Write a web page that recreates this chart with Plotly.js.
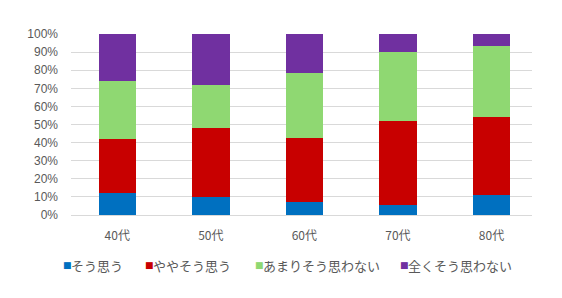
<!DOCTYPE html>
<html><head><meta charset="utf-8">
<script src="https://cdn.plot.ly/plotly-3.0.1.min.js"></script>
<style>html,body{margin:0;padding:0;background:#fff}#c{width:562px;height:298px}</style>
</head><body><div id="c"></div>
<script>
const categories = ["40代","50代","60代","70代","80代"];
const seriesNames = ["そう思う","ややそう思う","あまりそう思わない","全くそう思わない"];
const s1 = [12, 10, 7.4, 5.5, 11];
const s2 = [30, 38, 35.1, 46.2, 43.2];
const s3 = [31.8, 24, 36.2, 38.2, 39.4];
const s4 = [26.2, 28, 21.3, 10.1, 6.4];
const colors = ["#0070C0","#C80000","#8FD872","#7030A0"];
const vals = [s1,s2,s3,s4];
const traces = vals.map((v,i)=>({type:"bar",name:seriesNames[i],x:categories,y:v,marker:{color:colors[i]},hoverinfo:"none",showlegend:false}));
// custom legend positions (pixels)
const L = 71, W = 461, T = 34, H = 181;
const legX = [61, 143, 253, 398];
const legY = 265;
const px = x => (x - L) / W;
const py = y => (T + H - y) / H;
const annotations = [];
seriesNames.forEach((n,i)=>{
  annotations.push({xref:"paper",yref:"paper",x:px(legX[i]),y:py(legY),xanchor:"left",yanchor:"middle",showarrow:false,
    text:"■",font:{size:9,color:colors[i],family:"'DejaVu Sans', sans-serif"}});
  annotations.push({xref:"paper",yref:"paper",x:px(legX[i]+8),y:py(legY),xanchor:"left",yanchor:"middle",showarrow:false,
    text:n,font:{size:13,color:"#595959"}});
});
const layout = {
  width:562,height:298,barmode:"stack",bargap:0.6,
  margin:{l:L,r:562-L-W,t:T,b:298-T-H},
  paper_bgcolor:"#fff",plot_bgcolor:"#fff",
  font:{family:"'Noto Sans CJK JP', 'Liberation Sans', sans-serif",size:11,color:"#595959"},
  xaxis:{automargin:false,range:[-0.494,4.433],showgrid:false,showline:false,ticks:"",ticklabelstandoff:12,tickfont:{size:12,color:"#595959"}},
  yaxis:{automargin:false,range:[0,100],dtick:10,ticksuffix:"%",gridcolor:"#d9d9d9",zeroline:true,zerolinecolor:"#d9d9d9",showline:false,ticklabelstandoff:12,tickfont:{size:12,color:"#595959",family:"'Liberation Sans', sans-serif"}},
  showlegend:false,
  annotations
};
Plotly.newPlot("c",traces,layout,{displayModeBar:false,staticPlot:true});
</script></body></html>
